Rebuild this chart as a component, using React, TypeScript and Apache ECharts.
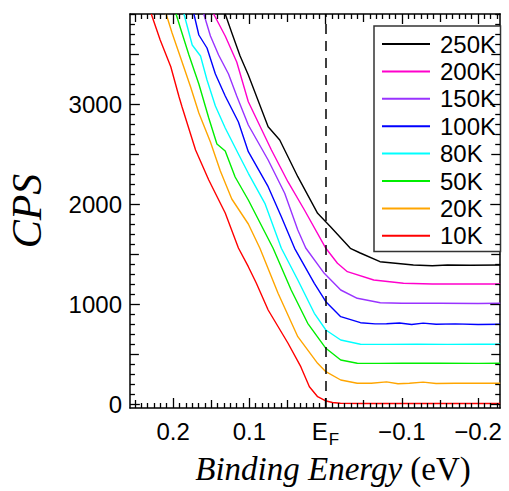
import { useEffect, useRef } from "react";
import * as echarts from "echarts";

const seriesNames = ["250K", "200K", "150K", "100K", "80K", "50K", "20K", "10K"];
const seriesColors = ["#000000", "#ff00cc", "#9933ff", "#0000ff", "#00ffff", "#00ee00", "#ffa500", "#ff0000"];

const k250 = [[0.1316,3905],[0.1229,3715],[0.1121,3485],[0.1013,3295],[0.0753,2778],[0.0601,2645],[0.0364,2278],[0.0104,1912],[-0.0065,1778],[-0.0325,1562],[-0.0455,1515],[-0.0714,1428],[-0.1152,1395],[-0.14,1388],[-0.16,1395],[-0.19,1393],[-0.229,1395]];
const k200 = [[0.1468,3905],[0.1316,3685],[0.1165,3425],[0.1013,3028],[0.071,2545],[0.0494,2228],[0.0277,1945],[-0.0004,1562],[-0.0156,1412],[-0.0286,1328],[-0.0632,1245],[-0.1022,1212],[-0.14,1205],[-0.18,1205],[-0.229,1205]];
const k150 = [[0.1597,3905],[0.151,3685],[0.1403,3495],[0.1273,3305],[0.1165,3085],[0.1013,2795],[0.0753,2445],[0.0536,2112],[0.0364,1745],[0.026,1565],[0.0017,1312],[-0.0199,1145],[-0.0416,1062],[-0.0718,1018],[-0.1,1012],[-0.15,1012],[-0.2,1010],[-0.229,1012]];
const k100 = [[0.1727,3905],[0.1662,3695],[0.1555,3565],[0.1445,3305],[0.1316,3085],[0.1143,2825],[0.1013,2528],[0.0753,2178],[0.058,1878],[0.0406,1562],[0.0147,1212],[-0.0004,1028],[-0.0199,878],[-0.0458,818],[-0.065,806],[-0.08,808],[-0.097,815],[-0.113,800],[-0.128,814],[-0.145,803],[-0.17,806],[-0.2,800],[-0.229,803]];
const k80 = [[0.1857,3905],[0.1749,3595],[0.164,3485],[0.1555,3245],[0.1445,2985],[0.1316,2765],[0.1143,2505],[0.1013,2312],[0.0796,2012],[0.058,1562],[0.0364,1245],[0.0147,912],[-0.0004,745],[-0.0199,645],[-0.0458,602],[-0.08,601],[-0.12,603],[-0.16,601],[-0.2,602],[-0.229,602]];
const k50 = [[0.1961,3905],[0.19,3755],[0.1792,3495],[0.1662,3205],[0.1532,2865],[0.1425,2605],[0.1316,2535],[0.1186,2275],[0.1013,2045],[0.0688,1562],[0.0451,1145],[0.0234,812],[-0.0004,562],[-0.0199,445],[-0.0416,412],[-0.07,411],[-0.1,412],[-0.15,412],[-0.2,411],[-0.229,412]];
const k20 = [[0.2091,3905],[0.2013,3715],[0.19,3465],[0.177,3175],[0.1662,2915],[0.151,2625],[0.138,2335],[0.123,2055],[0.1013,1805],[0.0861,1562],[0.0623,1112],[0.0364,678],[0.0104,412],[-0.0004,328],[-0.0199,245],[-0.0416,212],[-0.06,213],[-0.08,226],[-0.095,208],[-0.11,212],[-0.128,224],[-0.145,210],[-0.17,212],[-0.2,212],[-0.229,213]];
const k10 = [[0.2286,3905],[0.2169,3645],[0.203,3378],[0.1922,3078],[0.1883,2978],[0.1705,2545],[0.1532,2245],[0.1316,1915],[0.1143,1565],[0.1013,1378],[0.0909,1215],[0.0753,945],[0.0494,615],[0.0325,378],[0.0212,178],[0.0104,78],[0.0004,38],[-0.0091,20],[-0.0195,12],[-0.05,10],[-0.1,11],[-0.15,10],[-0.2,11],[-0.229,10]];
const seriesData = [k250, k200, k150, k100, k80, k50, k20, k10];

const xMin = -0.229;
const xMax = 0.2565;
const yMin = -35;
const yMax = 3905;
const xMajorTicks = [0.2, 0.1, 0, -0.1, -0.2];
const xMidTicks = [0.25, 0.15, 0.05, -0.05, -0.15];
const yMajorTicks = [0, 1000, 2000, 3000];
const yMidTicks = [500, 1500, 2500, 3500];

const xMinorTicks: number[] = [];
for (let i = -27; i <= 30; i++) if (i % 6 !== 0) xMinorTicks.push(i / 120);
const yMinorTicks: number[] = [];
for (let v = 100; v < yMax; v += 100) if (v % 500 !== 0) yMinorTicks.push(v);

const SANS = "'Liberation Sans', Arial, sans-serif";
const SERIF = "'Liberation Serif', 'Times New Roman', serif";

const GRID_W = 375;
const GRID_H = 394;

function fmtX(v: number) {
  if (Math.abs(v) < 1e-9) return "{a|E}{b|F}";
  return v > 0 ? v.toFixed(1) : "\u2212" + Math.abs(v).toFixed(1);
}

export default function App() {
  const ref = useRef<HTMLDivElement>(null);
  useEffect(() => {
    if (!ref.current) return;
    const chart = echarts.init(ref.current, null, { renderer: "svg" });
    const series: any[] = seriesNames.map((name, i) => ({
      name, type: "line", xAxisIndex: 0, yAxisIndex: 0,
      data: seriesData[i], symbol: "none", showSymbol: false,
      lineStyle: { color: seriesColors[i], width: 1.4 },
      itemStyle: { color: seriesColors[i] },
      clip: true, z: 2,
    }));
    series[0].markLine = {
      silent: true, symbol: ["none", "none"], label: { show: false },
      lineStyle: { color: "#000", width: 1.5, type: [10, 7] },
      data: [{ xAxis: 0 }],
    };

    // axis ticks as short segments in data space (lengths given in px, converted via the axis spans)
    const xPerPx = (xMax - xMin) / GRID_W;
    const yPerPx = (yMax - yMin) / GRID_H;
    const tickSegs: any[] = [];
    const addX = (vals: number[], len: number) => vals.forEach((v) => {
      tickSegs.push([{ coord: [v, yMin] }, { coord: [v, yMin + len * yPerPx] }]);
      tickSegs.push([{ coord: [v, yMax] }, { coord: [v, yMax - len * yPerPx] }]);
    });
    const addY = (vals: number[], len: number) => vals.forEach((v) => {
      tickSegs.push([{ coord: [xMax, v] }, { coord: [xMax - len * xPerPx, v] }]);
      tickSegs.push([{ coord: [xMin, v] }, { coord: [xMin + len * xPerPx, v] }]);
    });
    addX(xMajorTicks, 10);
    addX(xMidTicks, 8);
    addX(xMinorTicks, 5);
    addY(yMajorTicks, 10);
    addY(yMidTicks, 9);
    addY(yMinorTicks, 5);
    series.push({
      name: "ticks", type: "line", data: [], xAxisIndex: 0, yAxisIndex: 0, z: 5,
      markLine: {
        silent: true, symbol: ["none", "none"], label: { show: false }, precision: 6,
        lineStyle: { color: "#000", width: 1.3, type: "solid" },
        emphasis: { disabled: true },
        data: tickSegs,
      },
    });

    const axisLine = { show: true, onZero: false, lineStyle: { color: "#000", width: 1.5 } };
    chart.setOption({
      animation: false,
      backgroundColor: "#fff",
      grid: { left: 130, top: 14, width: GRID_W, height: GRID_H, containLabel: false },
      xAxis: [
        {
          type: "value", position: "bottom", min: xMin, max: xMax, inverse: true,
          splitLine: { show: false }, axisLine, axisTick: { show: false },
          axisLabel: {
            show: true, customValues: xMajorTicks, margin: 11, color: "#000", fontSize: 24, fontFamily: SANS,
            formatter: fmtX,
            rich: {
              a: { fontSize: 24, fontFamily: SANS, color: "#000", lineHeight: 24, verticalAlign: "top" },
              b: { fontSize: 17, fontFamily: SANS, color: "#000", lineHeight: 28.5, verticalAlign: "bottom", padding: [0, 0, 0, 1] },
            },
          },
        },
        {
          type: "value", position: "top", min: xMin, max: xMax, inverse: true,
          splitLine: { show: false }, axisLine, axisTick: { show: false }, axisLabel: { show: false },
        },
      ],
      yAxis: [
        {
          type: "value", position: "left", min: yMin, max: yMax,
          splitLine: { show: false }, axisLine, axisTick: { show: false },
          axisLabel: {
            show: true, customValues: yMajorTicks, margin: 8, color: "#000", fontSize: 24, fontFamily: SANS,
            formatter: (v: number) => String(v),
          },
        },
        {
          type: "value", position: "right", min: yMin, max: yMax,
          splitLine: { show: false }, axisLine, axisTick: { show: false }, axisLabel: { show: false },
        },
      ],
      legend: {
        orient: "vertical", left: 382, top: 32, padding: 0, itemGap: 3.4,
        itemWidth: 48, itemHeight: 2, icon: "rect",
        data: seriesNames,
        textStyle: { fontSize: 24, fontFamily: SANS, color: "#000", lineHeight: 24, padding: [0, 0, 0, 5] },
        z: 10,
      },
      graphic: [
        {
          type: "rect", z: 5, shape: { x: 374, y: 26, width: 126.5, height: 225.5 },
          style: { fill: "#fff", stroke: "#333", lineWidth: 1.5 },
        },
        {
          type: "text", x: 27, y: 211, rotation: Math.PI / 2,
          style: { text: "CPS", font: `italic 42px ${SERIF}`, fill: "#000", align: "center", verticalAlign: "middle" },
        },
        {
          type: "text", x: 333, y: 469,
          style: {
            text: "{i|Binding Energy} {r|(eV)}", align: "center", verticalAlign: "middle", fill: "#000",
            font: `33px ${SERIF}`,
            rich: {
              i: { fontStyle: "italic", fontSize: 33, fontFamily: SERIF, fill: "#000" },
              r: { fontStyle: "normal", fontSize: 33, fontFamily: SERIF, fill: "#000" },
            },
          },
        },
      ],
      series,
    });

    return () => chart.dispose();
  }, []);
  return <div ref={ref} style={{ position: "fixed", left: 0, top: 0, width: 509, height: 491 }} />;
}
